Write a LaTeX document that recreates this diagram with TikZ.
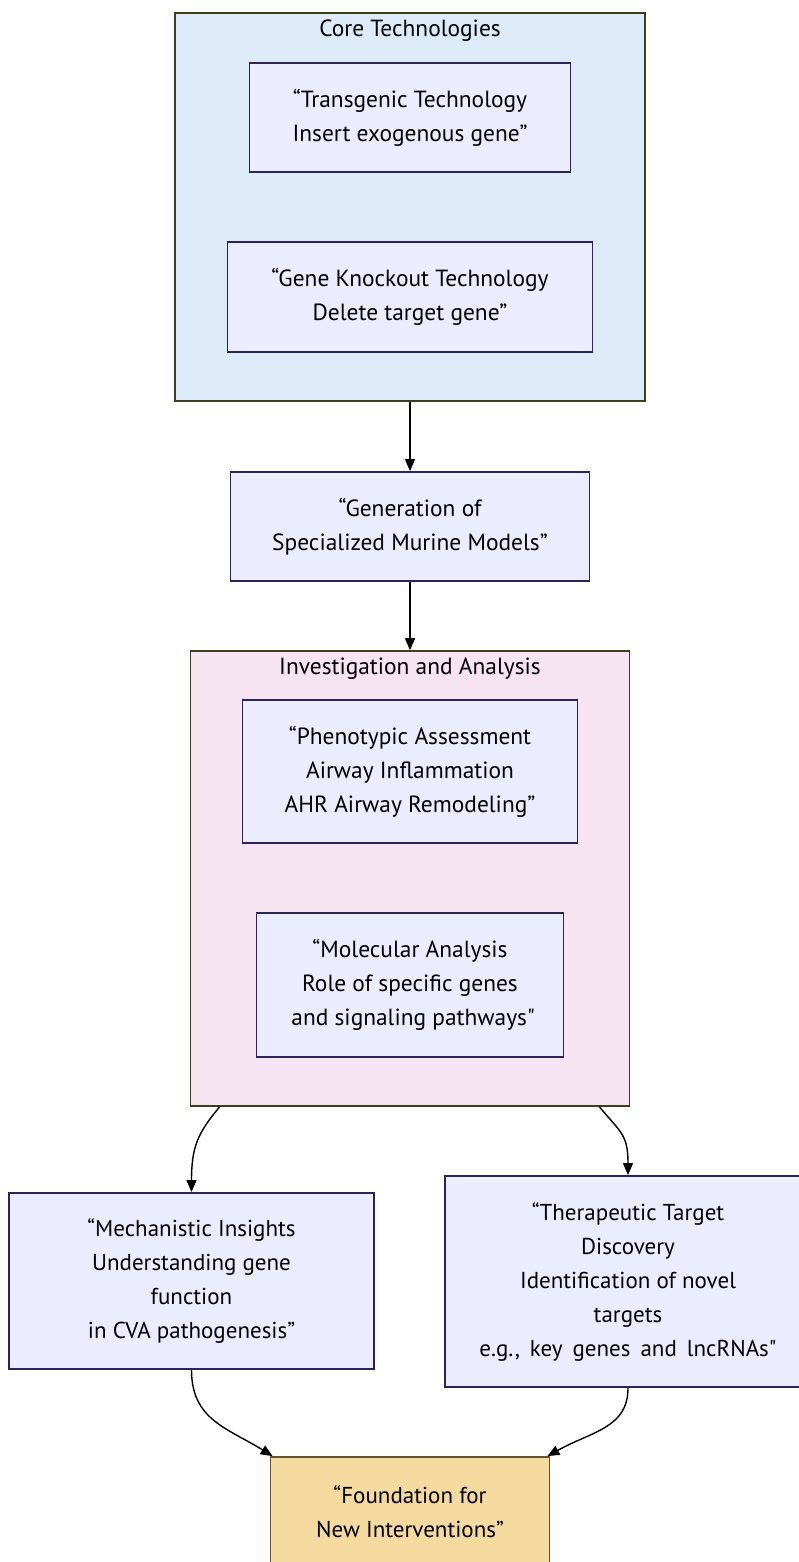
\documentclass[tikz,border=0pt]{standalone}
\usepackage{fontspec}
\setmainfont{PT Sans}[Ligatures=TeXOff]
\usetikzlibrary{arrows.meta}
\definecolor{bluefill}{RGB}{220,235,247}
\definecolor{pinkfill}{RGB}{247,228,243}
\definecolor{nodefill}{RGB}{236,236,255}
\definecolor{nodeline}{RGB}{45,35,90}
\definecolor{grpline}{RGB}{65,60,30}
\definecolor{goldfill}{RGB}{245,218,160}
\definecolor{goldline}{RGB}{100,85,50}
\tikzset{
  grp/.style={draw=grpline, line width=1.6pt, inner sep=0pt},
  box/.style={draw=nodeline, fill=nodefill, line width=1.8pt, align=center,
    font=\fontsize{23.4}{34}\selectfont, inner sep=0pt},
  boxb/.style={box, font=\fontsize{23}{34}\selectfont},
  ttl/.style={font=\fontsize{23.4}{26}\selectfont, inner sep=0pt},
  arr/.style={line width=1.4pt, -{Triangle[length=12pt,width=10pt]}}
}
\newcommand{\wsp}{\hspace{10pt}}
\begin{document}
\begin{tikzpicture}[x=1pt,y=-1pt]
\useasboundingbox (0,0) rectangle (799,1562);
\fill[white] (0,0) rectangle (799,1562);
% groups
\node[grp, fill=bluefill, minimum width=470pt, minimum height=388pt] (core) at (410,207) {};
\node[ttl] (coret) at (410,31) {Core Technologies};
\node[grp, fill=pinkfill, minimum width=439pt, minimum height=455pt] (inv) at (410,878.5) {};
\node[ttl] (invt) at (410,669) {Investigation and Analysis};
% nodes
\node[box, minimum width=321pt, minimum height=109pt] (trans) at (410,117.5) {“Transgenic Technology\\Insert exogenous gene”};
\node[box, minimum width=365pt, minimum height=110pt] (ko) at (410,297) {“Gene Knockout Technology\\Delete target gene”};
\node[box, minimum width=359pt, minimum height=109pt] (gen) at (410,526.5) {“Generation of\\Specialized Murine Models”};
\node[box, minimum width=335pt, minimum height=143pt] (phen) at (410,771.5) {“Phenotypic Assessment\\Airway Inflammation\\AHR Airway Remodeling”};
\node[box, minimum width=307pt, minimum height=144pt] (mol) at (410,985) {“Molecular Analysis\\Role of specific genes\\\ and signaling pathways"};
\node[boxb, minimum width=365pt, minimum height=176pt] (mech) at (191.5,1281) {“Mechanistic Insights\\Understanding gene\\function\\in CVA pathogenesis”};
\node[boxb, minimum width=366pt, minimum height=211pt] (ther) at (628,1281.5) {“Therapeutic Target\\Discovery\\Identification of novel\\targets\\e.g.,\wsp key\wsp genes\wsp and\wsp lncRNAs"};
\node[boxb, draw=goldline, fill=goldfill, minimum width=279pt, minimum height=110pt] (found) at (410,1512) {“Foundation for\\New Interventions”};
% connectors
\draw[arr] (core.south) -- (gen.north);
\draw[arr] (gen.south) -- (inv.north);
\draw[arr] ([xshift=30pt]inv.south west) .. controls +(-22,26) and +(0,-45) .. (mech.north);
\draw[arr] ([xshift=-31pt]inv.south east) .. controls +(22,26) and +(0,-40) .. (ther.north);
\draw[arr] (mech.south) .. controls +(0,50) and +(-45,-28) .. ([xshift=3pt]found.north west);
\draw[arr] (ther.south) .. controls +(0,40) and +(45,-25) .. ([xshift=-3pt]found.north east);
\end{tikzpicture}
\end{document}
